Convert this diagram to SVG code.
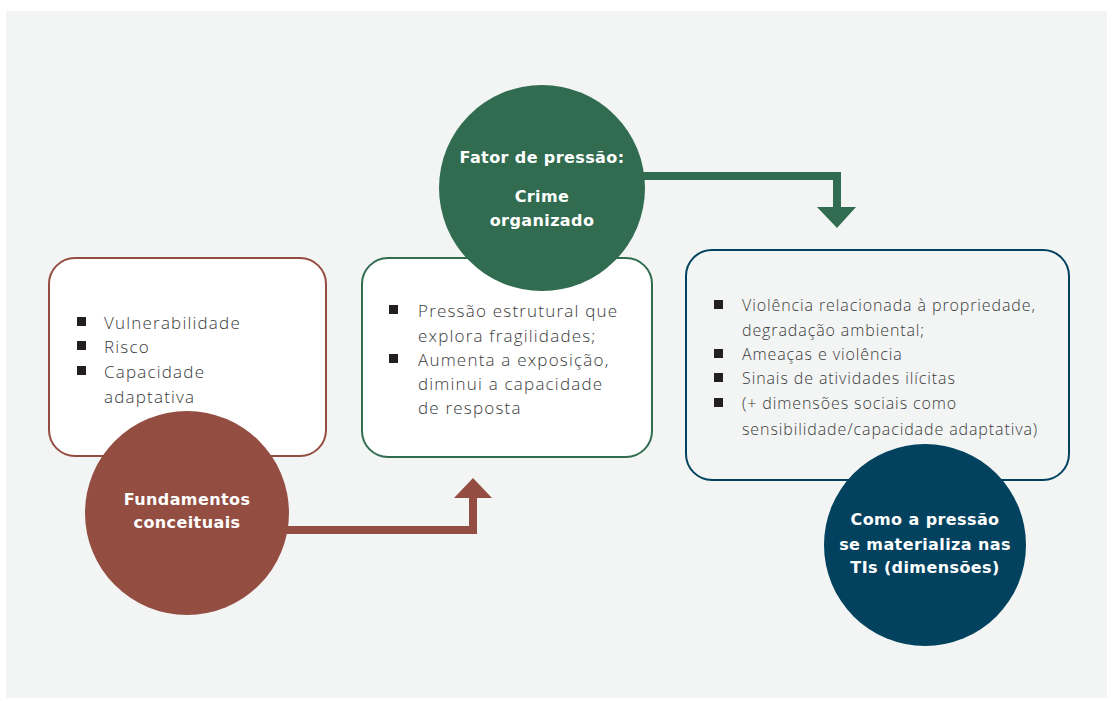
<svg xmlns="http://www.w3.org/2000/svg" width="1113" height="701" viewBox="0 0 1113 701">
<style>
.body{font-family:"Open Sans","Noto Sans","Liberation Sans",sans-serif;font-weight:300;font-size:17px;letter-spacing:1.2px;fill:#3a3a3a}
.body2{font-family:"Open Sans","Noto Sans","Liberation Sans",sans-serif;font-weight:300;font-size:16px;letter-spacing:0.9px;fill:#3a3a3a}
.title{font-family:"DejaVu Sans","Liberation Sans",sans-serif;font-weight:bold;font-size:16px;letter-spacing:0.4px;fill:#ffffff;text-anchor:middle}
.bul{fill:#231f20}
</style>
<rect x="0" y="0" width="1113" height="701" fill="#ffffff"/>
<rect x="6" y="11" width="1101" height="687" fill="#f3f5f4"/>
<g id="connectors">
<path d="M285,526 H469 V498 H454 L473,478 L492,498 H477 V534 H285 Z" fill="#944d41"/>
<path d="M640,172 H841 V207 H856 L837,228 L817,207 H833 V180 H640 Z" fill="#316c50"/>
</g>
<g id="box-fundamentos">
<rect x="49" y="258" width="277" height="198" rx="26" fill="#ffffff" stroke="#944d41" stroke-width="2"/>
<rect class="bul" x="77" y="317" width="9" height="9"/>
<rect class="bul" x="77" y="341" width="9" height="9"/>
<rect class="bul" x="77" y="366" width="9" height="9"/>
<text class="body" x="104" y="329">Vulnerabilidade</text>
<text class="body" x="104" y="353">Risco</text>
<text class="body" x="104" y="378">Capacidade</text>
<text class="body" x="104" y="403">adaptativa</text>
</g>
<g id="box-pressao">
<rect x="362" y="258" width="290" height="199" rx="26" fill="#ffffff" stroke="#316c50" stroke-width="2"/>
<rect class="bul" x="389" y="305" width="9" height="9"/>
<rect class="bul" x="389" y="354" width="9" height="9"/>
<text class="body" x="418" y="317">Pressão estrutural que</text>
<text class="body" x="418" y="342">explora fragilidades;</text>
<text class="body" x="418" y="366">Aumenta a exposição,</text>
<text class="body" x="418" y="390">diminui a capacidade</text>
<text class="body" x="418" y="414">de resposta</text>
</g>
<g id="box-dimensoes">
<rect x="686" y="250" width="383" height="230" rx="26" fill="#f3f5f4" stroke="#02425f" stroke-width="2"/>
<rect class="bul" x="714" y="300" width="9" height="9"/>
<rect class="bul" x="714" y="349" width="9" height="9"/>
<rect class="bul" x="714" y="373" width="9" height="9"/>
<rect class="bul" x="714" y="398" width="9" height="9"/>
<text class="body2" x="742" y="311">Violência relacionada à propriedade,</text>
<text class="body2" x="742" y="336">degradação ambiental;</text>
<text class="body2" x="742" y="360">Ameaças e violência</text>
<text class="body2" x="742" y="384">Sinais de atividades ilícitas</text>
<text class="body2" x="742" y="409">(+ dimensões sociais como</text>
<text class="body2" x="742" y="435">sensibilidade/capacidade adaptativa)</text>
</g>
<g id="circle-fator">
<circle cx="542" cy="188" r="103" fill="#316c50"/>
<text class="title" x="542" y="163">Fator de pressão:</text>
<text class="title" x="542" y="202">Crime</text>
<text class="title" x="542" y="226">organizado</text>
</g>
<g id="circle-fundamentos">
<circle cx="187" cy="513" r="102" fill="#944d41"/>
<text class="title" x="187" y="505">Fundamentos</text>
<text class="title" x="187" y="528">conceituais</text>
</g>
<g id="circle-dimensoes">
<circle cx="925" cy="545" r="101" fill="#02425f"/>
<text class="title" x="925" y="525">Como a pressão</text>
<text class="title" x="925" y="550">se materializa nas</text>
<text class="title" x="925" y="573">TIs (dimensões)</text>
</g>
</svg>
